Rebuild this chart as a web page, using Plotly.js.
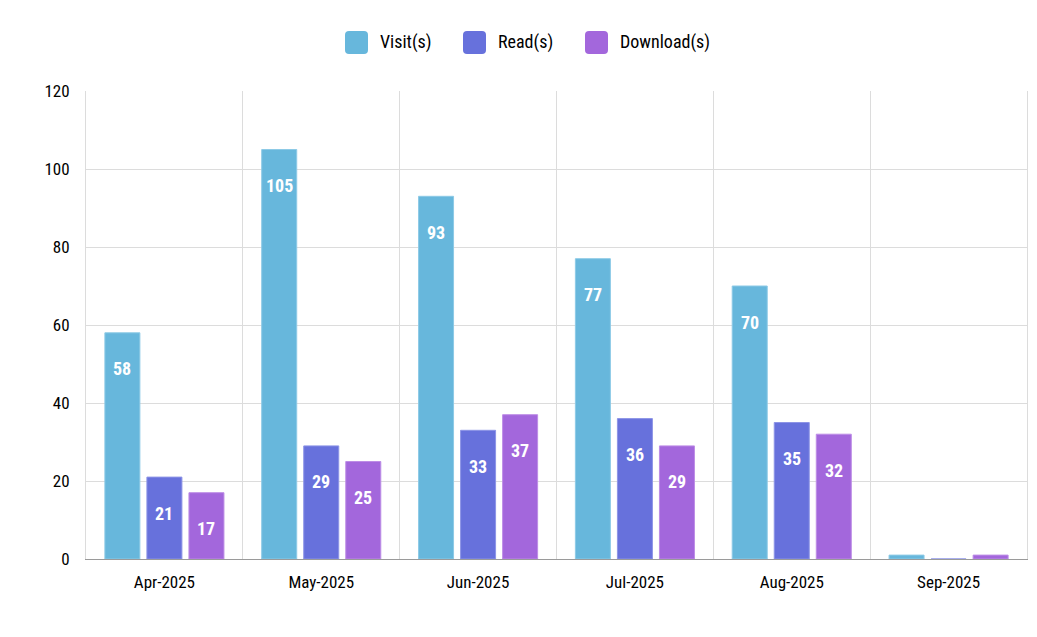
<!DOCTYPE html>
<html>
<head>
<meta charset="utf-8">
<script src="https://cdn.plot.ly/plotly-3.0.1.min.js"></script>
<style>html,body{margin:0;padding:0;background:#fff;}#chart{width:1037px;height:637px;}</style>
</head>
<body>
<div id="chart"></div>
<script>
const months = ["Apr-2025", "May-2025", "Jun-2025", "Jul-2025", "Aug-2025", "Sep-2025"];
const visits = [58, 105, 93, 77, 70, 1];
const reads = [21, 29, 33, 36, 35, 0];
const downloads = [17, 25, 37, 29, 32, 1];
const seriesNames = ["Visit(s)", "Read(s)", "Download(s)"];
const seriesColors = ["#67b7dc", "#6771dc", "#a367dc"];
const seriesLines = ["#8dcae6", "#8d94e6", "#bd8de6"];
const allSeries = [visits, reads, downloads];

const FONT = "'Roboto Condensed', Roboto, sans-serif";
const W = 1037, H = 637, ML = 86, MR = 10, MT = 91, MB = 78;
const PW = W - ML - MR, PH = H - MT - MB;
const px2x = p => (p - ML) / PW;
const py2y = p => (H - MB - p) / PH;

const bargap = 0.196, bargroupgap = 0.167;
const slot = (1 - bargap) / allSeries.length;

const traces = allSeries.map((vals, s) => ({
  type: "bar",
  name: seriesNames[s],
  x: months,
  y: vals,
  showlegend: false,
  marker: {color: seriesColors[s], line: {color: seriesLines[s], width: 1}},
  hoverinfo: "x+y+name"
}));

const annotations = [];
allSeries.forEach((vals, s) => {
  const off = (s - (allSeries.length - 1) / 2) * slot;
  vals.forEach((v, i) => {
    if (v >= 10) {
      annotations.push({
        x: i + off, y: v, xref: "x", yref: "y",
        text: String(v), showarrow: false, yshift: -36,
        font: {family: FONT, size: 18, color: "#ffffff", weight: 700}
      });
    }
  });
});

// custom legend (large rounded swatches)
const legendBoxLeft = [345, 463, 585];
const shapes = [];
legendBoxLeft.forEach((lx, s) => {
  const x0 = px2x(lx), x1 = px2x(lx + 23);
  const y0 = py2y(54), y1 = py2y(31);
  const rx = 4 / PW, ry = 4 / PH;
  const path = `M${x0 + rx},${y0} L${x1 - rx},${y0} Q${x1},${y0} ${x1},${y0 + ry} ` +
               `L${x1},${y1 - ry} Q${x1},${y1} ${x1 - rx},${y1} L${x0 + rx},${y1} ` +
               `Q${x0},${y1} ${x0},${y1 - ry} L${x0},${y0 + ry} Q${x0},${y0} ${x0 + rx},${y0} Z`;
  shapes.push({type: "path", xref: "paper", yref: "paper", path: path,
               fillcolor: seriesColors[s], line: {width: 0}, layer: "above"});
  annotations.push({xref: "paper", yref: "paper", x: px2x(lx + 33), y: py2y(42),
                    xanchor: "left", yanchor: "middle", showarrow: false,
                    text: seriesNames[s], font: {family: FONT, size: 18, color: "#000"}});
});

const layout = {
  width: W, height: H,
  margin: {l: ML, r: MR, t: MT, b: MB},
  paper_bgcolor: "#ffffff", plot_bgcolor: "#ffffff",
  font: {family: FONT, size: 17, color: "#000000"},
  barmode: "group", bargap: bargap, bargroupgap: bargroupgap,
  showlegend: false,
  xaxis: {type: "category", tickson: "boundaries", showgrid: true, gridcolor: "#dcdcdc",
          ticks: "", showline: true, linecolor: "#9a9a9a", linewidth: 1, mirror: false,
          ticklabelstandoff: 8,
          tickfont: {family: FONT, size: 17, color: "#000"}, fixedrange: true},
  yaxis: {range: [0, 120], dtick: 20, showgrid: true, gridcolor: "#dcdcdc", zeroline: false,
          showline: true, linecolor: "#dcdcdc", mirror: true, ticks: "", ticklabelstandoff: 12,
          tickfont: {family: FONT, size: 17, color: "#000"}, fixedrange: true},
  shapes: shapes,
  annotations: annotations
};

Plotly.newPlot("chart", traces, layout, {displayModeBar: false, staticPlot: true});
</script>
</body>
</html>
